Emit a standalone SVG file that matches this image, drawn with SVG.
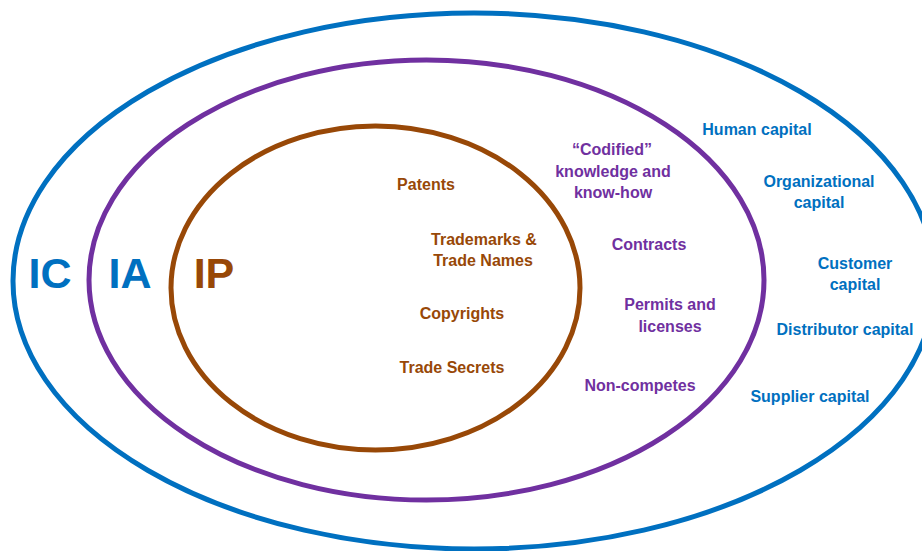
<svg xmlns="http://www.w3.org/2000/svg" width="922" height="551" viewBox="0 0 922 551">
<style>
.ring{fill:none;stroke-width:5}
.t{font-family:"Liberation Sans",Arial,sans-serif;font-weight:bold;font-size:16px;text-anchor:middle}
.big{font-family:"Liberation Sans",Arial,sans-serif;font-weight:bold;font-size:43px;text-anchor:middle}
.ic{fill:#0070C0}
.ia{fill:#7030A0}
.ip{fill:#984807}
</style>
<rect width="922" height="551" fill="#fff"/>
<g id="IC">
<ellipse class="ring" cx="474" cy="281" rx="461" ry="268" stroke="#0070C0"/>
<text class="big ic" x="50" y="288">IC</text>
<text class="t ic" x="757" y="135">Human capital</text>
<text class="t ic" x="819" y="187">Organizational</text>
<text class="t ic" x="819" y="208">capital</text>
<text class="t ic" x="855" y="269">Customer</text>
<text class="t ic" x="855" y="290">capital</text>
<text class="t ic" x="845" y="335">Distributor capital</text>
<text class="t ic" x="810" y="402">Supplier capital</text>
</g>
<g id="IA">
<ellipse class="ring" cx="426.5" cy="280" rx="337.5" ry="220" stroke="#7030A0"/>
<text class="big ic" x="130" y="288">IA</text>
<text class="t ia" x="612" y="155">“Codified”</text>
<text class="t ia" x="613" y="177">knowledge and</text>
<text class="t ia" x="613" y="198">know-how</text>
<text class="t ia" x="649" y="250">Contracts</text>
<text class="t ia" x="670" y="310">Permits and</text>
<text class="t ia" x="670" y="332">licenses</text>
<text class="t ia" x="640" y="391">Non-competes</text>
</g>
<g id="IP">
<ellipse class="ring" cx="375.5" cy="288" rx="204.5" ry="162" stroke="#984807"/>
<text class="big ip" x="214" y="288">IP</text>
<text class="t ip" x="426" y="190">Patents</text>
<text class="t ip" x="484" y="245">Trademarks &amp;</text>
<text class="t ip" x="483" y="266">Trade Names</text>
<text class="t ip" x="462" y="319">Copyrights</text>
<text class="t ip" x="452" y="373">Trade Secrets</text>
</g>
<g id="connectors"/>
</svg>
